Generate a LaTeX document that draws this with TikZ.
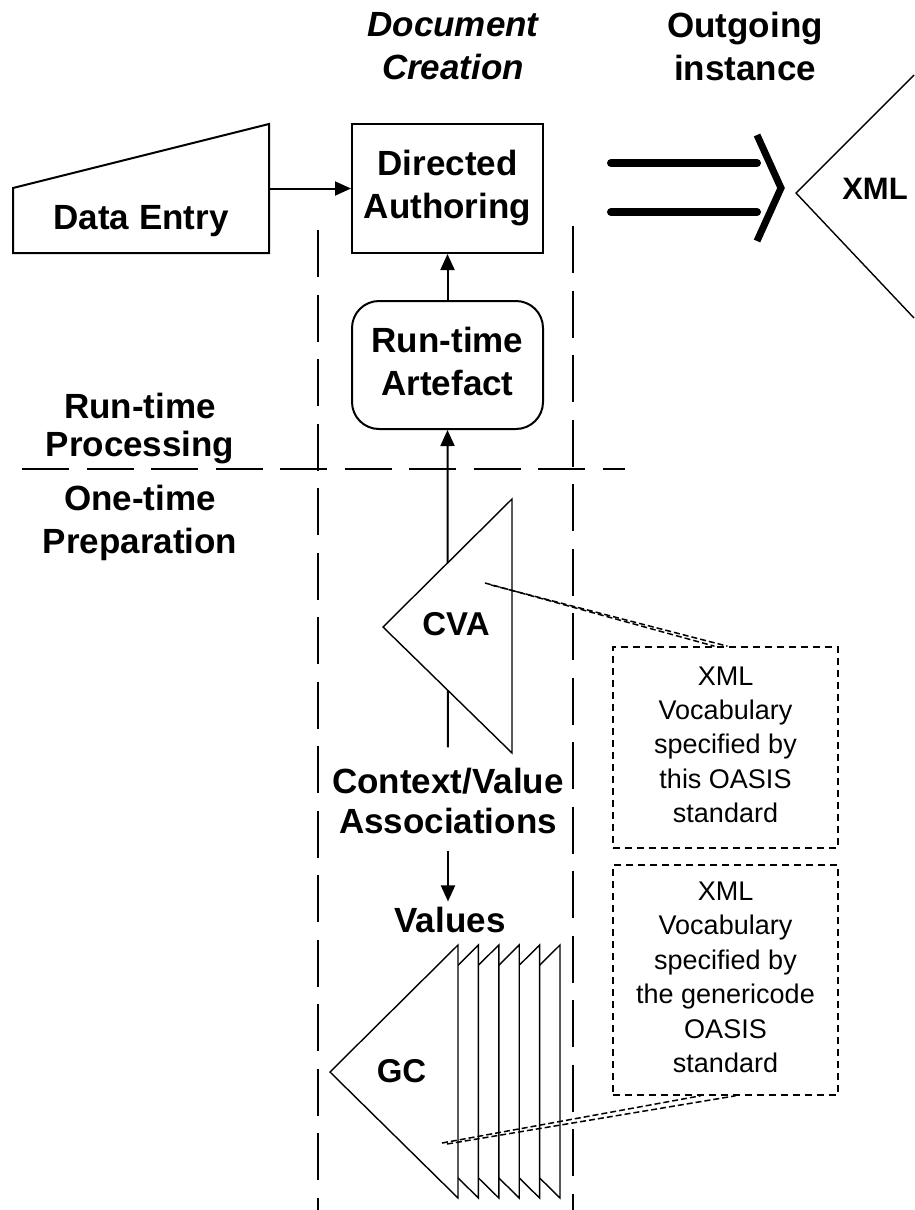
\documentclass[tikz,border=0pt]{standalone}
\usepackage{fontspec}
\setmainfont{Liberation Sans}
\usetikzlibrary{arrows.meta,calc}
\begin{document}
\begin{tikzpicture}[x=1pt,y=-1pt,
  bigtext/.style={font=\bfseries\fontsize{35}{43}\selectfont},
  box/.style={draw, line width=2pt, minimum width=191pt, minimum height=129pt, inner sep=0pt, align=center, bigtext},
  lbl/.style={inner sep=0pt, align=center, bigtext},
  arr/.style={line width=2pt, -{Triangle[length=16pt,width=14pt]}},
  sep/.style={line width=2.2pt, dash pattern=on 47pt off 17.5pt},
  tri/.style={line width=1.4pt, fill=white, line join=miter},
  vocab/.style={draw, line width=1.6pt, dash pattern=on 7pt off 5pt, minimum width=225pt, inner sep=0pt, align=center, font=\fontsize{27}{34.4}\selectfont},
  link/.style={line width=1.5pt, dash pattern=on 6pt off 3pt}
]
\useasboundingbox (0,0) rectangle (914,1210);

% separators
\draw[sep] (22,469) -- (625,469);
\draw[sep] (318,230) -- (318,1210);
\draw[sep] (573,226) -- (573,1210);

% column headings
\node[lbl, font=\bfseries\itshape\fontsize{35}{43}\selectfont] (dc) at (453,46) {Document\\Creation};
\node[lbl] (oi) at (745,46) {Outgoing\\instance};

% side labels
\node[lbl, font=\bfseries\fontsize{35}{38}\selectfont] (rtp) at (140,429) {Run-time\\Processing};
\node[lbl] (otp) at (140,522.6) {One-time\\Preparation};

% Data entry
\coordinate (de-sw) at (13,253);
\coordinate (de-se) at (269,253);
\coordinate (de-ne) at (269,124);
\coordinate (de-nw) at (13,188);
\draw[line width=2pt, line join=miter] (de-sw) -- (de-se) -- (de-ne) -- (de-nw) -- cycle;
\node[lbl] (de) at (141,221) {Data Entry};
\coordinate (de-e) at (269,188.5);

% boxes
\node[box] (da) at (447.5,188.5) {Directed\\Authoring};
\node[box, rounded corners=27pt, minimum height=128pt] (ra) at (447.5,365) {Run-time\\Artefact\vphantom{g}};

\draw[arr] (de-e) -- (da.west);
\draw[arr] (ra.north) -- (da.south);

% context/value
\node[lbl, font=\bfseries\fontsize{35}{40}\selectfont] (cvt) at (448,800.5) {Context/Value\\Associations};
\node[lbl] (val) at (450,919.5) {Values};
\draw[arr, shorten <=20pt] (cvt.north) -- (ra.south);
\draw[arr, shorten <=17pt, shorten >=5pt] (cvt.south) -- (cvt.south |- val.north);

% CVA triangle
\coordinate (cva-tip) at (383,627);
\coordinate (cva-top) at (512,499);
\coordinate (cva-bot) at (512,753);
\draw[tri] (cva-tip) -- (cva-top) -- (cva-bot) -- cycle;
\node[lbl, font=\bfseries\fontsize{33}{40}\selectfont] (cva) at (456,624) {CVA};

% GC stack
\foreach \i in {5,4,...,0} {
  \draw[tri] ({330+20.4*\i},1072) -- ({458+20.4*\i},945) -- ({458+20.4*\i},1198) -- cycle;
}
\node[lbl, font=\bfseries\fontsize{33}{40}\selectfont] (gc) at (401.5,1071) {GC};

% XML outgoing
\coordinate (xml-tip) at (796,193);
\draw[line width=1.4pt] (914,75) -- (xml-tip) -- (914,318);
\node[lbl, font=\bfseries\fontsize{31}{38}\selectfont] (xml) at (875,189) {XML};

% big double arrow
\draw[line width=8pt, line cap=round] (611,163) -- (757,163);
\draw[line width=8pt, line cap=round] (611,212) -- (757,212);
\draw[line width=7pt, line join=miter, miter limit=10] (757,135) -- (781,188) -- (757,241);

% vocabulary boxes
\node[vocab, minimum height=201pt] (vb1) at (725.5,747.5) {XML\\Vocabulary\\specified by\\this OASIS\\standard\vphantom{g}};
\node[vocab, minimum height=230pt] (vb2) at (725.5,980) {XML\\Vocabulary\\specified by\\the genericode\\OASIS\\standard\vphantom{g}};

% links
\coordinate (cva-link) at (485,583);
\draw[link] (cva-link) -- ([xshift=-11pt]vb1.north);
\draw[link] ([shift={(6,2)}]cva-link) -- ([xshift=2pt]vb1.north);
\coordinate (gc-link) at (442,1143);
\draw[link] (gc-link) -- ([xshift=-25pt]vb2.south);
\draw[link] ([shift={(5,1)}]gc-link) -- ([xshift=10pt]vb2.south);
\end{tikzpicture}
\end{document}
